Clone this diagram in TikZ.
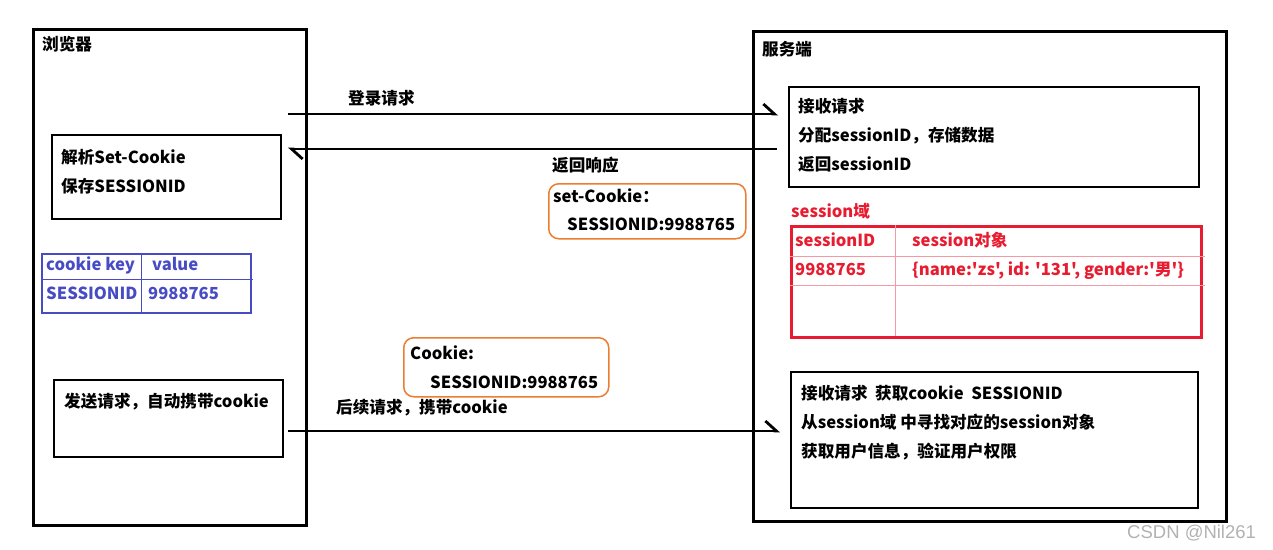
\documentclass[tikz,border=0pt]{standalone}
\usepackage{fontspec}
\setmainfont{Noto Sans CJK SC}[Ligatures=TeXOff]
\newfontfamily\wmfont{Liberation Sans}
\usetikzlibrary{arrows.meta}
\definecolor{tblblue}{RGB}{72,76,196}
\definecolor{domred}{RGB}{232,28,48}
\definecolor{cookieorange}{RGB}{237,125,49}

\begin{document}
\begin{tikzpicture}[x=1pt, y=-1pt,
    frame/.style={draw, line width=3pt, anchor=north west, inner sep=0pt},
    inbox/.style={draw, line width=2.4pt, anchor=north west, inner sep=0pt},
    ckbox/.style={draw=cookieorange, line width=1.5pt, rounded corners=10pt, anchor=north west, inner sep=0pt},
    lbl/.style={anchor=west, inner sep=0pt, text height=14pt, text depth=3pt,
                font=\bfseries\fontsize{16.6}{19}\selectfont},
    msg/.style={line width=2.8pt, -{Straight Barb[harpoon, length=11pt, width=20pt]}}
]
\useasboundingbox (0,0) rectangle (1273,549);

% browser side
\node[frame, minimum width=273pt, minimum height=496pt] (browser) at (32,28) {};
\node[lbl] (browsertitle) at (42,45) {浏览器};
\node[inbox, minimum width=229pt, minimum height=84pt] (parse) at (51,134) {};
\node[lbl] (parse1) at (61,158) {解析Set-Cookie};
\node[lbl] (parse2) at (61,187) {保存SESSIONID};

\node[draw=tblblue, line width=1.5pt, anchor=north west, inner sep=0pt,
      minimum width=209pt, minimum height=59pt] (cookietbl) at (41,253) {};
\draw[tblblue, line width=1pt] (141,253) -- (141,312);
\draw[tblblue, line width=1pt] (41,279) -- (253,279);
\node[lbl, text=tblblue] (ckey) at (46,265) {cookie key};
\node[lbl, text=tblblue] (cval) at (152,265) {value};
\node[lbl, text=tblblue] (ckeyv) at (46,294) {SESSIONID};
\node[lbl, text=tblblue] (cvalv) at (148,294) {9988765};

\node[inbox, minimum width=229pt, minimum height=77pt] (send) at (53,379) {};
\node[lbl] (send1) at (64,402) {发送请求，自动携带cookie};

% server side
\node[frame, minimum width=473pt, minimum height=490pt] (server) at (752,30) {};
\node[lbl] (servertitle) at (762,50) {服务端};
\node[inbox, minimum width=410pt, minimum height=100pt] (recv) at (788,86) {};
\node[lbl] (recv1) at (798,107) {接收请求};
\node[lbl] (recv2) at (798,136) {分配sessionID，存储数据};
\node[lbl] (recv3) at (798,165) {返回sessionID};

\node[lbl, text=domred] (domtitle) at (791,212) {session域};
\node[draw=domred, line width=3pt, anchor=north west, inner sep=0pt,
      minimum width=410pt, minimum height=111pt] (sesstbl) at (790,225) {};
\draw[domred!45, line width=1pt] (895,225) -- (895,336);
\draw[domred!45, line width=1pt] (790,256) -- (1205,256);
\draw[domred!45, line width=1pt] (790,285) -- (1205,285);
\node[lbl, text=domred] (skey) at (795,241) {sessionID};
\node[lbl, text=domred] (sobj) at (912,241) {session对象};
\node[lbl, text=domred] (skeyv) at (795,270) {9988765};
\node[lbl, text=domred] (sobjv) at (912,270) {\{name:'zs', id: '131', gender:'男'\}};

\node[inbox, minimum width=407pt, minimum height=136pt] (handle) at (790,371) {};
\node[lbl] (handle1) at (801,394) {接收请求\ \ 获取cookie\ \ SESSIONID};
\node[lbl] (handle2) at (801,423) {从session域 中寻找对应的session对象};
\node[lbl] (handle3) at (801,452) {获取用户信息，验证用户权限};

% messages
\coordinate (loginS) at (288,114);
\coordinate (backE) at (288,149);
\coordinate (nextS) at (288,431);
\node[lbl] (loginlbl) at (348,99) {登录请求};
\draw[msg] (loginS) -- ([xshift=-10pt]recv.west |- loginS);
\draw[msg] ([xshift=-11pt]recv.west |- backE) -- (backE);
\node[lbl] (backlbl) at (552,166) {返回响应};
\node[ckbox, minimum width=197pt, minimum height=55pt] (setck) at (548,183) {};
\node[lbl] (setck1) at (553,197) {set-Cookie：};
\node[lbl] (setck2) at (567,225) {SESSIONID:9988765};

\node[ckbox, minimum width=205pt, minimum height=59pt] (reqck) at (403,337) {};
\node[lbl] (reqck1) at (410,354) {Cookie:};
\node[lbl] (reqck2) at (430,383) {SESSIONID:9988765};
\node[lbl] (nextlbl) at (336,408) {后续请求，携带cookie};
\draw[msg] (nextS) -- ([xshift=-10pt]handle.west |- nextS);

\node[anchor=west, inner sep=0pt, text=black!30, font=\wmfont\fontsize{18.5}{20}\selectfont] (mark) at (1127,533) {CSDN @Nil261};
\end{tikzpicture}
\end{document}
